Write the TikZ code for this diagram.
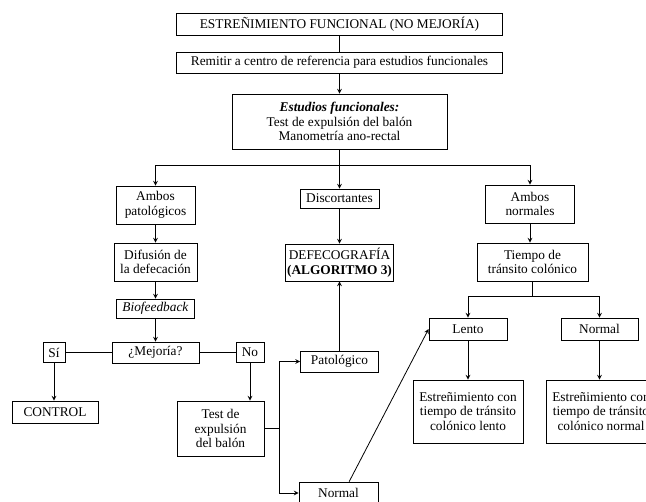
\documentclass[tikz,border=0pt]{standalone}
\usepackage{fontspec}
\setmainfont{Liberation Serif}
\usepackage{tikz}
\usetikzlibrary{shapes.geometric, arrows}

\begin{document}
\begin{tikzpicture}[x=0.75pt, y=-0.75pt, >=stealth,
        box/.style={draw, line width=0.6pt, align=center, inner sep=1pt,
            font=\fontsize{10}{11}\selectfont},
        link/.style={line width=0.6pt}]
        % Frame of the page
        \useasboundingbox (0,0) rectangle (646,501);
        \clip (0,0) rectangle (646,501);

        % Top of the chart
        \node[box, minimum width=244.5pt, minimum height=16.5pt] (top) at (339.5,24) {ESTREÑIMIENTO FUNCIONAL (NO MEJORÍA)};
        \node[box, minimum width=244.5pt, minimum height=15.75pt] (remitir) at (339.5,62.5) {Remitir a centro de referencia para estudios funcionales};
        \node[box, minimum width=161.25pt, minimum height=41.25pt] (estudios) at (339.5,121.5) {\textbf{\textit{Estudios funcionales:}}\\Test de expulsión del balón\\Manometría ano-rectal};

        % Left column
        \node[box, minimum width=59.25pt, minimum height=28.5pt] (ambosp) at (155.5,205) {Ambos\\patológicos};
        \node[box, minimum width=62.25pt, minimum height=28.5pt] (difusion) at (155.5,262) {Difusión de\\la defecación};
        \node[box, minimum width=58.5pt, minimum height=14.25pt] (bio) at (155.5,308.5) {\textit{Biofeedback}};
        \node[box, minimum width=65.25pt, minimum height=15.75pt] (mejoria) at (155.5,352.5) {¿Mejoría?};
        \node[box, minimum width=16.5pt, minimum height=15pt] (si) at (54,352.5) {Sí};
        \node[box, minimum width=21pt, minimum height=15pt] (no) at (250,352.5) {No};
        \node[box, minimum width=64.5pt, minimum height=16.5pt] (control) at (55,412) {CONTROL};
        \node[box, minimum width=65.25pt, minimum height=41.25pt] (test) at (220.5,428.5) {Test de\\expulsión\\del balón};

        % Middle column
        \node[box, minimum width=59.25pt, minimum height=14.25pt] (discord) at (339.5,198.5) {Discortantes};
        \node[box, minimum width=80.25pt, minimum height=27.75pt] (defeco) at (339.5,262.5) {DEFECOGRAFÍA\\\textbf{(ALGORITMO 3)}};
        \node[box, minimum width=58.5pt, minimum height=15.75pt] (patologico) at (339.5,361.5) {Patológico};
        \node[box, minimum width=59.25pt, minimum height=16.5pt] (normalb) at (338.5,493) {Normal};

        % Right column
        \node[box, minimum width=66.75pt, minimum height=28.5pt] (ambosn) at (530,204) {Ambos\\normales};
        \node[box, minimum width=83.25pt, minimum height=28.5pt] (tiempo) at (532.5,262) {Tiempo de\\tránsito colónico};
        \node[box, minimum width=58.5pt, minimum height=16.5pt] (lento) at (468,329) {Lento};
        \node[box, minimum width=57.75pt, minimum height=16.5pt] (normalr) at (599.5,329) {Normal};
        \node[box, minimum width=82.5pt, minimum height=47.25pt] (estl) at (468,411.5) {Estreñimiento con\\tiempo de tránsito\\colónico lento};
        \node[box, minimum width=82.5pt, minimum height=47.25pt] (estn) at (601,411.5) {Estreñimiento con\\tiempo de tránsito\\colónico normal};

        % Branch points
        \coordinate (split1) at (339.5,165);
        \coordinate (split2) at (279,428.5);
        \coordinate (split3) at (532.5,296);

        % Connectors
        \draw[link] (top) -- (remitir);
        \draw[link, ->] (remitir) -- (estudios);
        \draw[link] (estudios.south) -- (split1);
        \draw[link, ->] (split1) -| (ambosp);
        \draw[link, ->] (split1) -- (discord);
        \draw[link, ->] (split1) -| (ambosn);

        \draw[link, ->] (ambosp) -- (difusion);
        \draw[link, ->] (difusion) -- (bio);
        \draw[link, ->] (bio) -- (mejoria);
        \draw[link] (mejoria) -- (si);
        \draw[link] (mejoria) -- (no);
        \draw[link, ->] (si.south) -- (si.south |- control.north);
        \draw[link, ->] (no.south) -- (no.south |- test.north);

        \draw[link] (test.east) -- (split2);
        \draw[link, ->] (split2) |- (patologico.west);
        \draw[link, ->] (split2) |- (normalb.west);
        \draw[link, ->] (discord) -- (defeco);
        \draw[link, ->] (patologico) -- (defeco);
        \draw[link, ->] ([xshift=8pt]normalb.north) -- (lento.west);

        \draw[link, ->] (ambosn) -- (tiempo.north -| ambosn);
        \draw[link] (tiempo) -- (split3);
        \draw[link, ->] (split3) -| (lento);
        \draw[link, ->] (split3) -| (normalr);
        \draw[link, ->] (lento) -- (estl);
        \draw[link, ->] (normalr) -- (normalr |- estn.north);
    \end{tikzpicture}
\end{document}
